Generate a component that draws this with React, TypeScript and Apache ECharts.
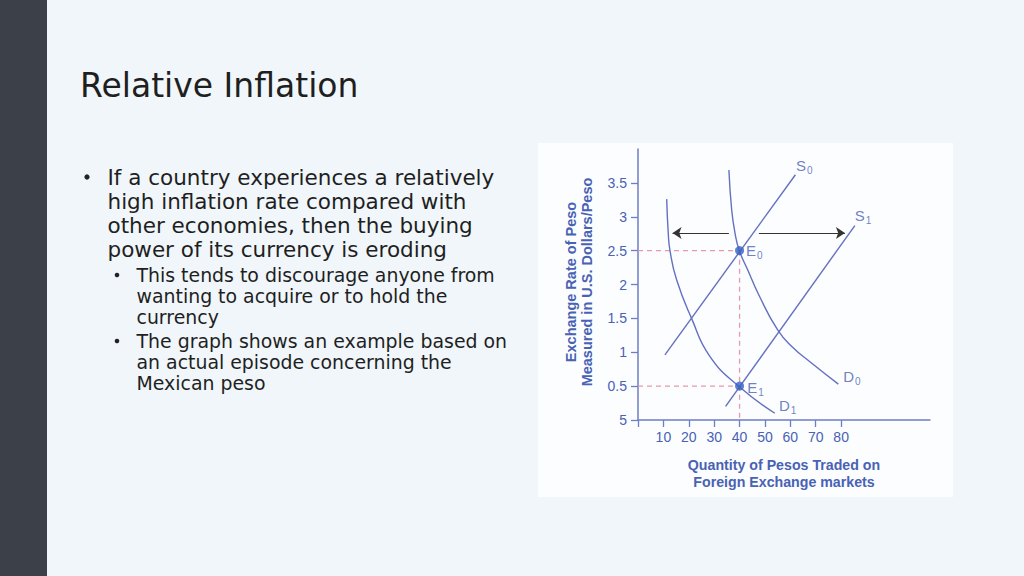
import React, { useEffect, useRef } from "react";
import * as echarts from "echarts";

// ---- data ----
const xTickValues = [0, 10, 20, 30, 40, 50, 60, 70, 80];
const xLabelValues = [10, 20, 30, 40, 50, 60, 70, 80];
const yTickValues = [0, 0.5, 1, 1.5, 2, 2.5, 3, 3.5];
const supplyS0 = [[10.6, 0.96], [62.0, 3.62]];
const supplyS1 = [[34.5, 0.2], [85.4, 2.87]];
const demandD0 = [[35.8, 3.69], [36.9, 3.1], [38.2, 2.76], [39.9, 2.5], [43.4, 2.2], [47.4, 1.86], [55.0, 1.33], [61.0, 1.07], [67.7, 0.86], [78.9, 0.53]];
const demandD1 = [[11.3, 3.26], [11.9, 2.77], [12.6, 2.5], [15.2, 2.07], [21.1, 1.5], [28.3, 0.94], [39.9, 0.49], [53.9, 0.1]];
const equilibria = [[40, 2.5], [40, 0.5]];
const guideH0 = [[0, 2.5], [40, 2.5]];
const guideV0 = [[40, 2.5], [40, 0]];
const guideH1 = [[0, 0.5], [40, 0.5]];
const arrowLeft = [[35.8, 2.76], [13.6, 2.76]];
const arrowRight = [[47.6, 2.76], [81.5, 2.76]];
const curveLabels = [
  { name: "S", sub: "0", pos: [62.2, 3.76] },
  { name: "S", sub: "1", pos: [85.4, 3.02] },
  { name: "E", sub: "0", pos: [42.5, 2.5] },
  { name: "E", sub: "1", pos: [43.0, 0.48] },
  { name: "D", sub: "0", pos: [80.8, 0.64] },
  { name: "D", sub: "1", pos: [55.5, 0.21] },
];
const title = "Relative Inflation";
const bulletMain = [
  "If a country experiences a relatively",
  "high inflation rate compared with",
  "other economies, then the buying",
  "power of its currency is eroding",
];
const bulletSubs = [
  ["This tends to discourage anyone from", "wanting to acquire or to hold the", "currency"],
  ["The graph shows an example based on", "an actual episode concerning the", "Mexican peso"],
];
const yAxisTitle = ["Exchange Rate of Peso", "Measured in U.S. Dollars/Peso"];
const xAxisTitle = ["Quantity of Pesos Traded on", "Foreign Exchange markets"];

const CURVE = "#6470c0";
const AXIS = "#6c7ec6";
const TXT = "#4862b4";
const PINK = "#e69aaa";
const SLIDE_FONT = "'DejaVu Sans', sans-serif";
const CHART_FONT = "'Liberation Sans', Arial, sans-serif";

export default function App() {
  const ref = useRef<HTMLDivElement>(null);
  useEffect(() => {
    if (!ref.current) return;
    const chart = echarts.init(ref.current, null, { renderer: "svg" });

    const txt = (x: number, baseline: number, text: string, size: number) => ({
      type: "text", z: 10,
      style: {
        x, y: baseline - 0.35 * size, text, fill: "#1f1f1f",
        font: `${size}px ${SLIDE_FONT}`, verticalAlign: "middle",
      },
    });

    const graphics: any[] = [
      { type: "rect", z: -100, shape: { x: 0, y: 0, width: 1024, height: 576 }, style: { fill: "#f0f6fa" } },
      { type: "rect", z: -99, shape: { x: 0, y: 0, width: 47, height: 576 }, style: { fill: "#3c4149" } },
      { type: "rect", z: -99, shape: { x: 538, y: 143, width: 415, height: 354 }, style: { fill: "#fcfdff" } },
      txt(80, 97, title, 33),
    ];
    const mainBase = [185, 209, 233, 257];
    graphics.push({ type: "circle", z: 10, shape: { cx: 87, cy: 177, r: 2.6 }, style: { fill: "#222" } });
    bulletMain.forEach((t, i) => graphics.push(txt(107.5, mainBase[i], t, 21.5)));
    const subBase = [[282, 303, 324], [348, 369, 390]];
    bulletSubs.forEach((lines, j) => {
      graphics.push({ type: "circle", z: 10, shape: { cx: 117, cy: subBase[j][0] - 7, r: 2.3 }, style: { fill: "#222" } });
      lines.forEach((t, i) => graphics.push(txt(136.5, subBase[j][i], t, 18.9)));
    });
    graphics.push({
      type: "text", z: 10, x: 579, y: 282, rotation: Math.PI / 2,
      style: {
        text: yAxisTitle.join("\n"), fill: TXT, font: `bold 14.5px ${CHART_FONT}`,
        align: "center", verticalAlign: "middle", lineHeight: 16,
      },
    });

    const lineSeries = (name: string, data: number[][], smooth: boolean) => ({
      type: "line", name, data, smooth,
      showSymbol: false, symbol: "none",
      lineStyle: { color: CURVE, width: 1.4 }, z: 3,
    });
    const dashSeries = (name: string, data: number[][]) => ({
      type: "line", name, data, showSymbol: false, symbol: "none",
      lineStyle: { color: PINK, width: 1.3, type: [5, 4] }, z: 2,
    });

    chart.setOption({
      animation: false,
      textStyle: { fontFamily: CHART_FONT },
      graphic: graphics,
      grid: { left: 638, top: 149, right: 94, bottom: 156, containLabel: false },
      xAxis: {
        type: "value", min: 0, max: 115,
        axisLine: { lineStyle: { color: AXIS, width: 1.5 } },
        axisTick: { show: true, length: 7, lineStyle: { color: AXIS, width: 1.3 }, customValues: xTickValues },
        axisLabel: { color: TXT, fontSize: 14, margin: 10, customValues: xLabelValues },
        splitLine: { show: false },
        name: xAxisTitle.join("\n"),
        nameLocation: "middle",
        nameGap: 36,
        nameTextStyle: { color: TXT, fontSize: 14.2, fontWeight: "bold", lineHeight: 17, fontFamily: CHART_FONT },
      },
      yAxis: {
        type: "value", min: 0, max: 4,
        axisLine: { show: true, lineStyle: { color: AXIS, width: 1.5 } },
        axisTick: { show: true, length: 7, lineStyle: { color: AXIS, width: 1.3 }, customValues: yTickValues },
        axisLabel: {
          color: TXT, fontSize: 14, margin: 11, customValues: yTickValues,
          formatter: (v: number) => (v === 0 ? "5" : String(v)),
        },
        splitLine: { show: false },
      },
      series: [
        dashSeries("guideH0", guideH0),
        dashSeries("guideV0", guideV0),
        dashSeries("guideH1", guideH1),
        lineSeries("S0", supplyS0, false),
        lineSeries("S1", supplyS1, false),
        lineSeries("D0", demandD0, true),
        lineSeries("D1", demandD1, true),
        {
          type: "lines", coordinateSystem: "cartesian2d", z: 4,
          symbol: ["none", "arrow"], symbolSize: [0, 9],
          lineStyle: { color: "#333", width: 1.2, opacity: 1 },
          data: [{ coords: arrowLeft }, { coords: arrowRight }],
        },
        {
          type: "scatter", name: "equilibria", data: equilibria, symbolSize: 9, z: 5,
          itemStyle: { color: "#3561c2" },
        },
        {
          type: "scatter", name: "labels", z: 6, symbolSize: 0,
          data: curveLabels.map((l) => ({ value: l.pos, name: l.name, sub: l.sub })),
          label: {
            show: true, position: "right", distance: 0,
            formatter: (p: any) => `{m|${p.data.name}}{s|${p.data.sub}}`,
            rich: {
              m: { fontSize: 15, color: TXT, lineHeight: 18, fontFamily: CHART_FONT },
              s: { fontSize: 10, color: TXT, lineHeight: 18, padding: [10, 0, 0, 1], fontFamily: CHART_FONT },
            },
          },
        },
      ],
    });
    return () => chart.dispose();
  }, []);
  return <div ref={ref} style={{ position: "absolute", left: 0, top: 0, width: 1024, height: 576 }} />;
}
